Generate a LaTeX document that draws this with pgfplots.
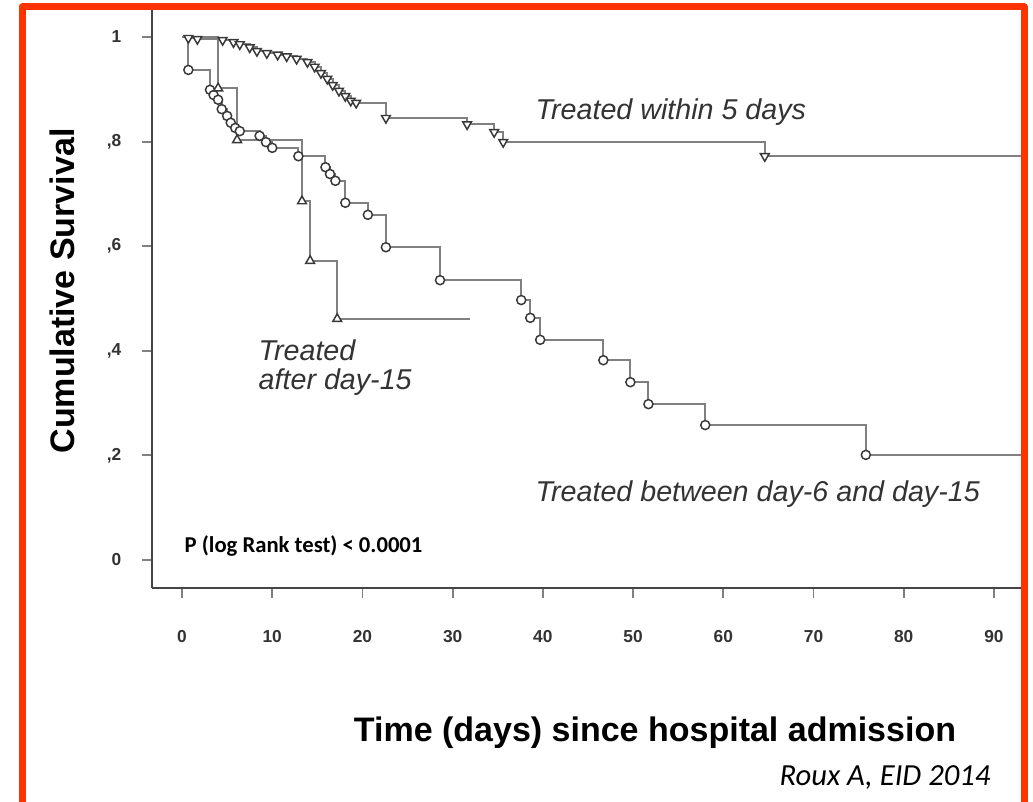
\documentclass[border=0pt]{standalone}
\usepackage{pgfplots}
\pgfplotsset{compat=1.18}
\usepackage{pgfplotstable}
\usepackage{fontspec}
\setmainfont{Liberation Sans}
\newfontfamily\calibri{Carlito}

\definecolor{framered}{HTML}{FF3300}
\definecolor{curve}{HTML}{808080}
\definecolor{markc}{HTML}{383838}
\definecolor{axisc}{HTML}{454545}
\definecolor{txt}{HTML}{333333}

% t = days, s = cumulative survival, m = 1 where an event marker is drawn
\pgfplotstableread{
t s m
0 1.000 0
0.7 0.998 1
1.7 0.996 1
4.5 0.994 1
5.7 0.990 1
6.4 0.986 1
7.5 0.980 1
8.3 0.973 1
9.4 0.969 1
10.6 0.966 1
11.6 0.963 1
12.7 0.958 1
13.9 0.952 1
14.7 0.943 1
15.4 0.931 1
16.1 0.920 1
16.7 0.908 1
17.4 0.897 1
18.1 0.887 1
18.7 0.878 1
19.3 0.874 1
22.6 0.845 1
31.6 0.833 1
34.6 0.818 1
35.6 0.799 1
64.6 0.772 1
95 0.772 0
}\within

\pgfplotstableread{
t s m
0 1.000 0
0.7 0.937 1
3.1 0.899 1
3.5 0.889 1
4.0 0.880 1
4.4 0.862 1
5.0 0.849 1
5.4 0.836 1
5.9 0.826 1
6.4 0.820 1
8.6 0.811 1
9.3 0.799 1
10.0 0.788 1
12.9 0.772 1
15.9 0.751 1
16.4 0.738 1
17.0 0.725 1
18.1 0.683 1
20.6 0.660 1
22.6 0.598 1
28.6 0.535 1
37.6 0.497 1
38.6 0.463 1
39.7 0.421 1
46.7 0.382 1
49.7 0.340 1
51.7 0.298 1
58.0 0.258 1
75.8 0.201 1
95 0.201 0
}\between

\pgfplotstableread{
t s m
0 1.000 0
4.0 0.902 1
6.1 0.803 1
13.3 0.686 1
14.2 0.572 1
17.2 0.461 1
31.9 0.461 0
}\after

\pgfplotsset{
  marked only/.style={only marks, restrict expr to domain={\thisrow{m}}{0.5:1.5}},
  km/.style={const plot, color=curve, line width=1.5pt, mark=none},
  kmmark/.style={mark size=3.8pt, mark options={draw=markc, line width=1.1pt, fill=white}},
}

\begin{document}
\begin{tikzpicture}[x=0.75pt,y=0.75pt]
\fill[white] (0,0) rectangle (1033,802);
\useasboundingbox (0,0) rectangle (1033,802);
\begin{axis}[
  at={(114pt,160.5pt)}, anchor=south west,
  scale only axis, width=651.75pt, height=433.5pt,
  xmin=-3.33, xmax=93.0, ymin=-0.0535, ymax=1.0516,
  axis x line*=bottom, axis y line*=left,
  axis line style={-, draw=axisc, line width=2.2pt},
  xtick={0,10,...,90},
  xticklabels={0,10,20,30,40,50,60,70,80,90},
  ytick={0,0.2,0.4,0.6,0.8,1},
  yticklabels={0,{,2},{,4},{,6},{,8},1},
  tick align=outside, major tick length=7.5pt,
  tick style={draw=gray, line width=1.4pt},
  ticklabel style={font=\fontsize{13pt}{14pt}\selectfont\bfseries, text=txt},
  xticklabel shift=21pt,
  yticklabel shift=12pt,
]
\addplot[km] table[x=t,y=s]{\within};
\addplot[marked only, kmmark, mark=triangle*, every mark/.append style={rotate=180}] table[x=t,y=s]{\within};
\addplot[km] table[x=t,y=s]{\between};
\addplot[marked only, kmmark, mark size=3.4pt, mark=*] table[x=t,y=s]{\between};
\addplot[km] table[x=t,y=s]{\after};
\addplot[marked only, kmmark, mark=triangle*] table[x=t,y=s]{\after};
\end{axis}

\begin{scope}[text=txt, font=\fontsize{21.5pt}{25pt}\selectfont\itshape]
\node[anchor=west] at (531,690) {Treated within 5 days};
\node[anchor=west] at (531,308) {Treated between day-6 and day-15};
\node[anchor=west] at (254,452) {Treated};
\node[anchor=west] at (254,420) {after day-15};
\end{scope}
\node[anchor=west, font=\calibri\bfseries\fontsize{17pt}{19pt}\selectfont] at (180,256) {P (log Rank test) < 0.0001};
\node[rotate=90, font=\fontsize{25.5pt}{30pt}\selectfont\bfseries] at (62,511) {Cumulative Survival};
\node[font=\fontsize{25.5pt}{30pt}\selectfont\bfseries] at (655,69) {Time (days) since hospital admission};
\node[font=\calibri\itshape\fontsize{23pt}{28pt}\selectfont] at (885,24) {Roux A, EID 2014};

\draw[framered, line width=5.25pt, line join=round] (22,-20) -- (22,795) -- (1024,795) -- (1024,-20);
\end{tikzpicture}
\end{document}
